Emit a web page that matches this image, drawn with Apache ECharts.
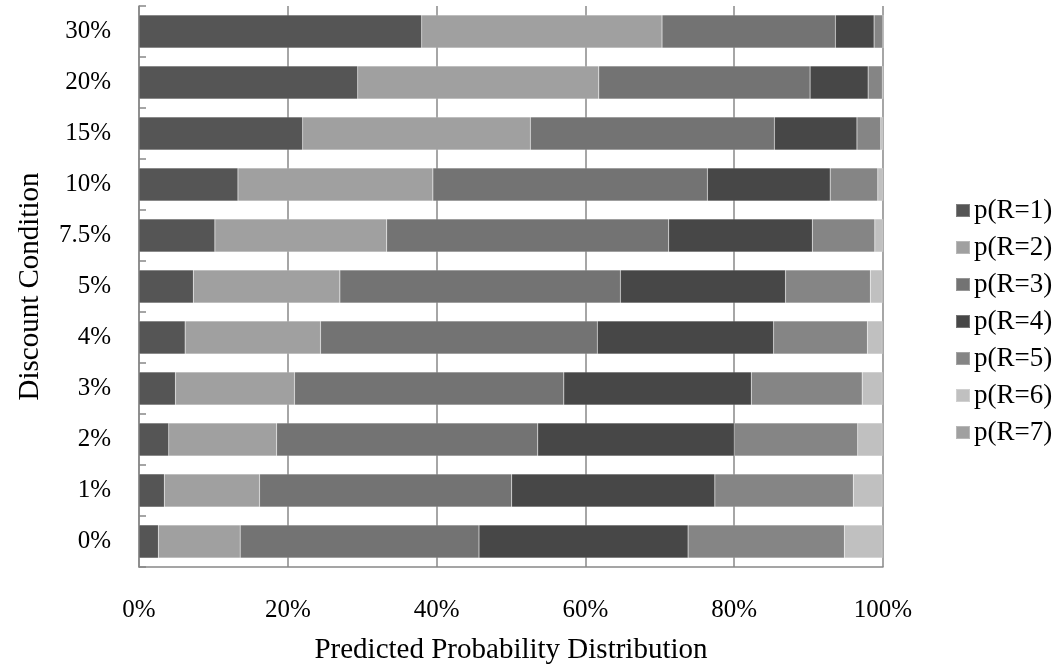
<!DOCTYPE html>
<html>
<head>
<meta charset="utf-8">
<script src="https://cdn.jsdelivr.net/npm/echarts@6/dist/echarts.min.js"></script>
<style>
  html, body { margin: 0; padding: 0; background: #fff; }
  #chart { width: 1060px; height: 666px; }
</style>
</head>
<body>
<div id="chart"></div>
<script>
// Discount conditions (bottom to top)
const categories = ['0%', '1%', '2%', '3%', '4%', '5%', '7.5%', '10%', '15%', '20%', '30%'];

// Predicted probability (%) of each rating outcome per discount condition
const pR1 = [2.6, 3.4, 4.0, 4.9, 6.2, 7.3, 10.2, 13.3, 22.0, 29.4, 38.0];
const pR2 = [11.0, 12.8, 14.5, 16.0, 18.2, 19.7, 23.1, 26.2, 30.6, 32.4, 32.3];
const pR3 = [32.1, 33.9, 35.1, 36.2, 37.2, 37.7, 37.9, 36.9, 32.8, 28.4, 23.3];
const pR4 = [28.1, 27.3, 26.4, 25.2, 23.7, 22.2, 19.3, 16.5, 11.1, 7.8, 5.2];
const pR5 = [21.0, 18.6, 16.6, 14.9, 12.6, 11.4, 8.4, 6.4, 3.2, 1.9, 1.2];
const pR6 = [5.1, 3.9, 3.3, 2.7, 2.0, 1.6, 1.05, 0.65, 0.28, 0.09, 0.0];
const pR7 = [0.1, 0.1, 0.1, 0.1, 0.1, 0.1, 0.05, 0.05, 0.02, 0.01, 0.0];

const xTicks = [0, 20, 40, 60, 80, 100];

const seriesNames = ['p(R=1)', 'p(R=2)', 'p(R=3)', 'p(R=4)', 'p(R=5)', 'p(R=6)', 'p(R=7)'];
const seriesData = [pR1, pR2, pR3, pR4, pR5, pR6, pR7];
const colors = ['#555555', '#a0a0a0', '#737373', '#474747', '#858585', '#c0c0c0', '#a0a0a0'];

const font = '"Liberation Serif", "Times New Roman", serif';
const chart = echarts.init(document.getElementById('chart'));

chart.setOption({
  animation: false,
  textStyle: { fontFamily: font },
  grid: { left: 139, right: 177, top: 6, bottom: 99, containLabel: false, outerBoundsMode: 'none' },
  legend: {
    orient: 'vertical',
    left: 950,
    top: 192,
    itemWidth: 14,
    itemHeight: 13,
    itemGap: 10,
    icon: 'rect',
    textStyle: { fontFamily: font, fontSize: 27, lineHeight: 27, color: '#000', padding: [0, 0, 0, -1] },
    data: seriesNames
  },
  xAxis: {
    type: 'value',
    min: 0,
    max: 100,
    interval: 20,
    name: 'Predicted Probability Distribution',
    nameLocation: 'middle',
    nameGap: 69,
    nameTextStyle: { fontFamily: font, fontSize: 29, color: '#000' },
    axisLine: { show: true, lineStyle: { color: '#888', width: 1.5 } },
    axisTick: { show: false },
    axisLabel: {
      margin: 31,
      fontFamily: font,
      fontSize: 25,
      color: '#000',
      formatter: v => (xTicks.includes(v) ? v + '%' : '')
    },
    splitLine: { show: true, lineStyle: { color: '#888', width: 1.5 } }
  },
  yAxis: {
    type: 'category',
    data: categories,
    name: 'Discount Condition',
    nameLocation: 'middle',
    nameGap: 94,
    nameTextStyle: { fontFamily: font, fontSize: 29, color: '#000' },
    axisLine: { show: true, lineStyle: { color: '#888', width: 1.5 } },
    axisTick: { show: true, inside: true, length: 7, lineStyle: { color: '#888', width: 1.5 } },
    axisLabel: { margin: 28, fontFamily: font, fontSize: 25, color: '#000' },
    splitLine: { show: false }
  },
  series: seriesNames.map((name, i) => ({
    name: name,
    type: 'bar',
    stack: 'total',
    barCategoryGap: '35%',
    data: seriesData[i],
    itemStyle: { color: colors[i], borderColor: 'rgba(255,255,255,0.25)', borderWidth: 0.5 },
    emphasis: { disabled: true }
  }))
});
</script>
</body>
</html>
